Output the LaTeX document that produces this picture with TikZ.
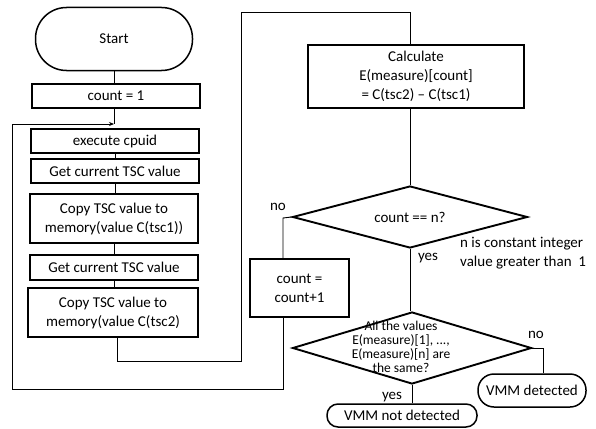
\documentclass[tikz,border=0pt]{standalone}
\usepackage{fontspec}
\setmainfont{Carlito}
\usetikzlibrary{shapes.geometric,arrows.meta}
\begin{document}
\begin{tikzpicture}[x=1pt,y=-1pt,
  box/.style={draw,line width=1.9pt,inner sep=0pt,align=center,font=\fontsize{15}{19}\selectfont},
  term/.style={draw,line width=1.5pt,rounded corners=#1,inner sep=0pt,font=\fontsize{15}{19}\selectfont},
  dia/.style={draw,diamond,line width=1.9pt,inner sep=0pt},
  conn/.style={line width=0.9pt},
  lbl/.style={font=\fontsize{15}{19}\selectfont,inner sep=0pt},
  small/.style={font=\fontsize{13.5}{13.8}\selectfont,inner sep=0pt,align=center}]
\useasboundingbox (0,0) rectangle (596,428);

\node[term=31pt,minimum width=157pt,minimum height=63pt] (start) at (114,39) {Start};
\node[box,minimum width=168pt,minimum height=24pt] (c1) at (116,96) {count = 1};
\node[box,minimum width=168pt,minimum height=24pt] (cpuid) at (115,141) {execute cpuid};
\node[box,minimum width=168pt,minimum height=24pt] (tsc1) at (115,171) {Get current TSC value};
\node[box,minimum width=168pt,minimum height=49pt] (copy1) at (114,218.5) {Copy TSC value to\\memory(value C(tsc1))};
\node[box,minimum width=168pt,minimum height=25pt] (tsc2) at (114,267.5) {Get current TSC value};
\node[box,minimum width=170pt,minimum height=49pt] (copy2) at (113,312.5) {Copy TSC value to\\memory(value C(tsc2)};

\node[box,minimum width=216pt,minimum height=63pt] (calc) at (416,76.5) {Calculate\\E(measure)[count]\\= C(tsc2) -- C(tsc1)};
\node[dia,minimum width=235pt,minimum height=62pt] (d1) at (410,217) {};
\node[lbl] (d1t) at (410,217) {count == n?};
\node[box,minimum width=99pt,minimum height=58pt] (inc) at (299.5,288) {count =\\count+1};
\node[dia,minimum width=239pt,minimum height=72pt] (d2) at (412,348) {};
\node[small] (d2t) at (401,347) {All the values\\E(measure)[1], ...,\\E(measure)[n] are\\the same?};
\node[term=16pt,minimum width=108pt,minimum height=33pt] (vd) at (532,390.5) {VMM detected};
\node[term=11pt,minimum width=150pt,minimum height=23pt] (vn) at (402,415.5) {VMM not detected};

\node[lbl,align=left,anchor=west] (note) at (460,253.5) {n is constant integer\\value greater than \ 1};
\node[lbl] (no1) at (278,207) {no};
\node[lbl] (yes1) at (428,258) {yes};
\node[lbl] (no2) at (536,335) {no};
\node[lbl] (yes2) at (392,397) {yes};

\coordinate (J) at (114,124);
\coordinate (lt) at (12,124);
\coordinate (ll) at (12,389);
\coordinate (lb) at (283,389);
\coordinate (nl) at (283,218);
\coordinate (r1) at (117,361);
\coordinate (r2) at (241,361);
\coordinate (r3) at (241,12);
\coordinate (r4) at (410,12);
\coordinate (vr) at (543,348);

\draw[conn] (start.south) -- (start.south |- c1.north);
\draw[conn] (c1.south -| J) -- (J);
\draw[conn,-{Stealth[length=5pt,width=4pt]}] (nl |- inc.south) -- (lb) -- (ll) -- (lt) -- (J);
\draw[conn] (cpuid.south) -- (cpuid.south |- tsc1.north);
\draw[conn] (tsc1.south) -- (tsc1.south |- copy1.north);
\draw[conn] (copy1.south) -- (copy1.south |- tsc2.north);
\draw[conn] (tsc2.south) -- (tsc2.south |- copy2.north);
\draw[conn] (r1 |- copy2.south) -- (r1) -- (r2) -- (r3) -- (r4) -- (r4 |- calc.north);
\draw[conn] (r4 |- calc.south) -- (d1.north);
\draw[conn] (d1.west) -- (nl) -- (nl |- inc.north);
\draw[conn] (d1.south) -- (d1.south |- d2.north);
\draw[conn] (d2.east) -- (vr) -- (vr |- vd.north);
\draw[conn] (d2.south) -- (d2.south |- vn.north);
\end{tikzpicture}
\end{document}
